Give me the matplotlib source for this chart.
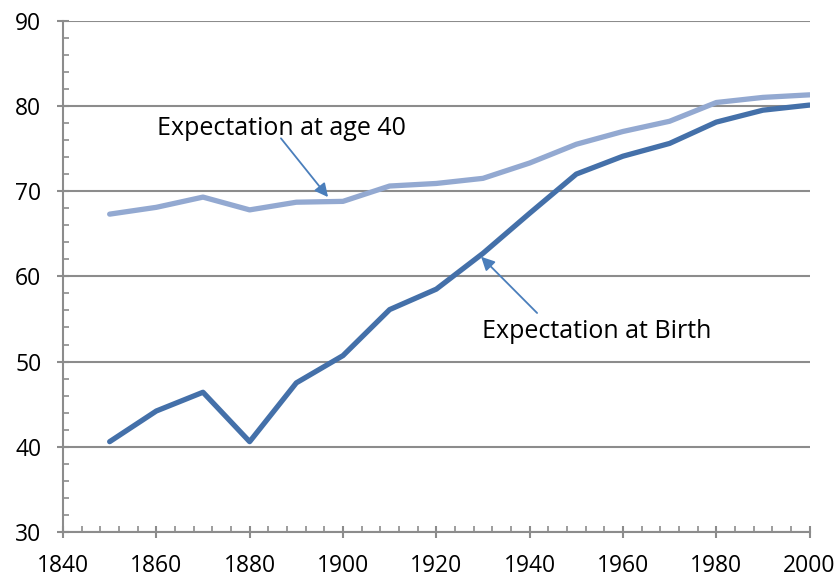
import matplotlib.pyplot as plt
from matplotlib.ticker import MultipleLocator

plt.rcParams['font.family'] = ['Open Sans', 'DejaVu Sans']

# Data
years = [1850, 1860, 1870, 1880, 1890, 1900, 1910, 1920, 1930, 1940,
         1950, 1960, 1970, 1980, 1990, 2000]
at_birth = [40.6, 44.2, 46.4, 40.6, 47.5, 50.7, 56.1, 58.5, 62.7, 67.4,
            72.0, 74.1, 75.6, 78.1, 79.5, 80.1]
at_age_40 = [67.3, 68.1, 69.3, 67.8, 68.7, 68.8, 70.6, 70.9, 71.5, 73.3,
             75.5, 77.0, 78.2, 80.4, 81.0, 81.3]

W, H = 839, 579
fig = plt.figure(figsize=(W / 100, H / 100), dpi=100)
ax = fig.add_axes([63 / W, (H - 532) / H, (809.6 - 63) / W, (532 - 20.7) / H])

grey = '#8c8c8c'
ax.set_xlim(1840, 2000)
ax.set_ylim(30, 90)

# horizontal gridlines
ax.yaxis.grid(True, color=grey, linewidth=1.5)
ax.set_axisbelow(True)

ax.plot(years, at_age_40, color='#93a9d1', linewidth=3.8, solid_capstyle='round')
ax.plot(years, at_birth, color='#4470a9', linewidth=3.8, solid_capstyle='round')

for s in ['top', 'right']:
    ax.spines[s].set_visible(False)
for s in ['left', 'bottom']:
    ax.spines[s].set_color(grey)
    ax.spines[s].set_linewidth(1.5)

ax.xaxis.set_major_locator(MultipleLocator(20))
ax.xaxis.set_minor_locator(MultipleLocator(4))
ax.yaxis.set_major_locator(MultipleLocator(10))
ax.yaxis.set_minor_locator(MultipleLocator(2))
ax.tick_params(which='major', direction='inout', length=9, width=1.5, color=grey,
               labelsize=16.5)
ax.tick_params(which='minor', direction='in', length=4.5, width=1.2, color=grey)
ax.tick_params(axis='x', which='major', pad=11)
ax.tick_params(axis='y', which='major', pad=11)

# annotations
arrow = dict(arrowstyle='-|>', color='#4a7ebb', lw=1.3, mutation_scale=20,
             shrinkA=0, shrinkB=0)
ax.text(1886.9, 77.3, 'Expectation at age 40', ha='center', va='center', fontsize=18)
ax.annotate('', xy=(1896.8, 69.3), xytext=(1886.7, 76.2), arrowprops=arrow)
ax.text(1954.4, 53.5, 'Expectation at Birth', ha='center', va='center', fontsize=18)
ax.annotate('', xy=(1929.6, 62.3), xytext=(1941.6, 55.7), arrowprops=arrow)

fig.savefig('out.png', dpi=100)
